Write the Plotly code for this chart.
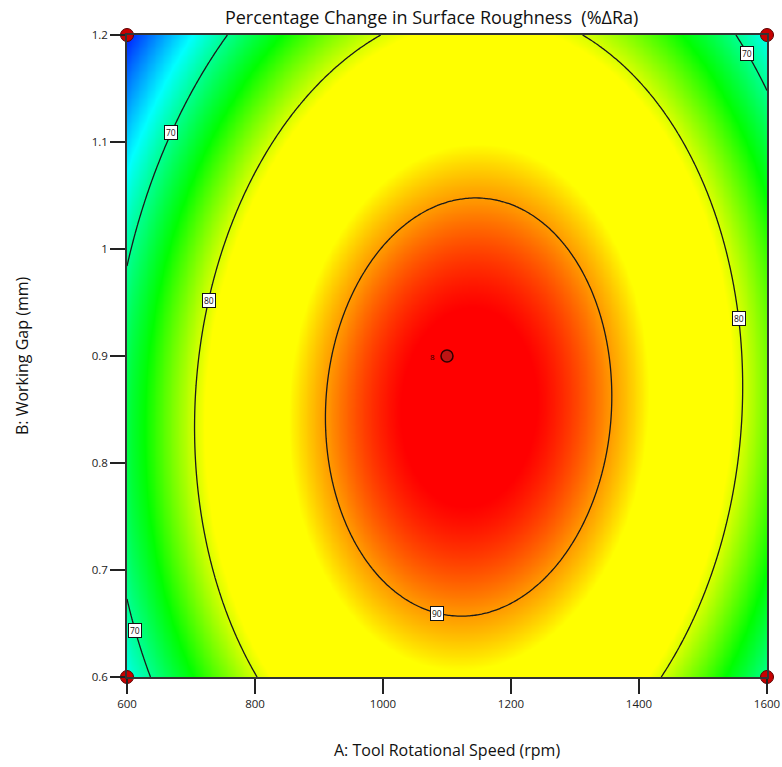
import numpy as np
import plotly.graph_objects as go

# Factor ranges (actual units)
speed_range = [600, 1600]        # A: tool rotational speed, rpm
gap_range = [0.6, 1.2]           # B: working gap, mm

# Fitted quadratic model in coded factors (a, b in -1..+1)
# %dRa = b0 + bA*a + bB*b + bAB*a*b + bAA*a^2 + bBB*b^2
coef_names = ["b0", "bA", "bB", "bAB", "bAA", "bBB"]
coef_values = [93.43, 2.75, -2.91, 1.32, -18.80, -8.87]

# Design points shown on the plot
design_speed = [600, 600, 1600, 1600, 1100]
design_gap = [0.6, 1.2, 0.6, 1.2, 0.9]
design_reps = ["", "", "", "", "8"]

# Contour levels and where their boxed labels sit
contour_levels = [70, 80, 90]
label_level = [70, 70, 70, 80, 80, 90]
label_fixed = ["B", "B", "B", "B", "B", "A"]
label_value = [1.109, 0.643, 1.183, 0.952, 0.9355, 1084]
label_root = ["low", "low", "high", "low", "high", "low"]

# Colour ramp: response value -> colour
ramp_values = [None, 66.5, 74.5, 81.0, 87.8, 90.2, 92.9, None]   # None = surface min / max
ramp_colors = ["rgb(0,30,255)", "rgb(0,255,255)", "rgb(0,255,0)", "rgb(255,255,0)",
               "rgb(255,255,0)", "rgb(255,145,0)", "rgb(255,0,0)", "rgb(255,0,0)"]

C = dict(zip(coef_names, coef_values))
a_mid, a_half = (speed_range[0] + speed_range[1]) / 2, (speed_range[1] - speed_range[0]) / 2
b_mid, b_half = (gap_range[0] + gap_range[1]) / 2, (gap_range[1] - gap_range[0]) / 2


def model(a, b):
    return (C["b0"] + C["bA"] * a + C["bB"] * b + C["bAB"] * a * b
            + C["bAA"] * a ** 2 + C["bBB"] * b ** 2)


A = np.linspace(speed_range[0], speed_range[1], 241)
B = np.linspace(gap_range[0], gap_range[1], 241)
AA, BB = np.meshgrid(A, B)
Z = model((AA - a_mid) / a_half, (BB - b_mid) / b_half)
zmin, zmax = float(Z.min()), float(Z.max())

stops = []
for v, c in zip(ramp_values, ramp_colors):
    val = zmin if v is None and not stops else (zmax if v is None else v)
    stops.append([(val - zmin) / (zmax - zmin), c])

fig = go.Figure()
fig.add_trace(go.Heatmap(
    x=A, y=B, z=Z, colorscale=stops, zsmooth="best",
    zmin=zmin, zmax=zmax, showscale=False, hoverinfo="skip",
))
fig.add_trace(go.Contour(
    x=A, y=B, z=Z, showscale=False, hoverinfo="skip",
    contours=dict(start=contour_levels[0], end=contour_levels[-1], size=10, coloring="none"),
    line=dict(color="#1a1a1a", width=1.3),
))


def solve_label(level, fixed, value, root):
    # solve model = level along a line of constant A or B
    if fixed == "B":
        b = (value - b_mid) / b_half
        qa, qb, qc = C["bAA"], C["bA"] + C["bAB"] * b, C["b0"] + C["bB"] * b + C["bBB"] * b ** 2 - level
    else:
        a = (value - a_mid) / a_half
        qa, qb, qc = C["bBB"], C["bB"] + C["bAB"] * a, C["b0"] + C["bA"] * a + C["bAA"] * a ** 2 - level
    disc = np.sqrt(qb ** 2 - 4 * qa * qc)
    roots = sorted([(-qb + disc) / (2 * qa), (-qb - disc) / (2 * qa)])
    r = roots[0] if root == "low" else roots[1]
    if fixed == "B":
        return a_mid + r * a_half, value
    return value, b_mid + r * b_half


for lev, fx, val, rt in zip(label_level, label_fixed, label_value, label_root):
    lx, ly = solve_label(lev, fx, val, rt)
    fig.add_annotation(
        x=lx, y=ly, text=str(lev), showarrow=False,
        font=dict(family="Open Sans", size=8.5, color="#111"),
        bgcolor="white", bordercolor="#111", borderwidth=1, borderpad=1,
    )

# design points
fig.add_trace(go.Scatter(
    x=design_speed[:4], y=design_gap[:4], mode="markers", cliponaxis=False,
    marker=dict(size=13, color="rgb(200,0,0)", line=dict(color="#5a0000", width=1)),
    hoverinfo="skip",
))
fig.add_trace(go.Scatter(
    x=design_speed[4:], y=design_gap[4:], mode="markers", cliponaxis=False,
    marker=dict(size=12, color="rgb(190,20,20)", line=dict(color="#300000", width=1.5)),
    hoverinfo="skip",
))
# replicate count beside the centre point
for sx, sy, rep in zip(design_speed, design_gap, design_reps):
    if rep:
        fig.add_annotation(x=sx, y=sy, text=rep, showarrow=False, xshift=-15,
                           font=dict(family="Open Sans", size=8, color="#2a0000"))

axis_font = dict(family="Open Sans", size=11.5, color="#222")
title_font = dict(family="Open Sans", size=16, color="#111")
fig.add_annotation(xref="paper", yref="paper", x=0.5, y=-0.113, yanchor="middle",
                   text="A: Tool Rotational Speed (rpm)", showarrow=False, font=title_font)
fig.add_annotation(xref="paper", yref="paper", x=-0.164, y=0.5, xanchor="center",
                   text="B: Working Gap (mm)", textangle=-90, showarrow=False, font=title_font)

fig.update_layout(
    width=782, height=767,
    margin=dict(l=127, r=15, t=35, b=90, autoexpand=False),
    paper_bgcolor="white", plot_bgcolor="white",
    showlegend=False,
    title=dict(
        text="Percentage Change in Surface Roughness  (%ΔRa)",
        x=0.552, xanchor="center", y=0.977, yanchor="middle",
        font=dict(family="Open Sans", size=18, color="#111"),
    ),
    xaxis=dict(
        range=speed_range, tickvals=[600, 800, 1000, 1200, 1400, 1600],
        ticks="outside", ticklen=15, tickwidth=2, tickcolor="#222",
        showline=True, linecolor="#333", linewidth=1.5, mirror=True,
        showgrid=False, zeroline=False, tickfont=axis_font, automargin=False,
    ),
    yaxis=dict(
        range=gap_range, tickvals=[0.6, 0.7, 0.8, 0.9, 1.0, 1.1, 1.2],
        ticktext=["0.6", "0.7", "0.8", "0.9", "1", "1.1", "1.2"],
        ticks="outside", ticklen=15, tickwidth=2, tickcolor="#222",
        showline=True, linecolor="#333", linewidth=1.5, mirror=True,
        showgrid=False, zeroline=False, tickfont=axis_font, automargin=False,
    ),
)

fig.write_html("out.html")
